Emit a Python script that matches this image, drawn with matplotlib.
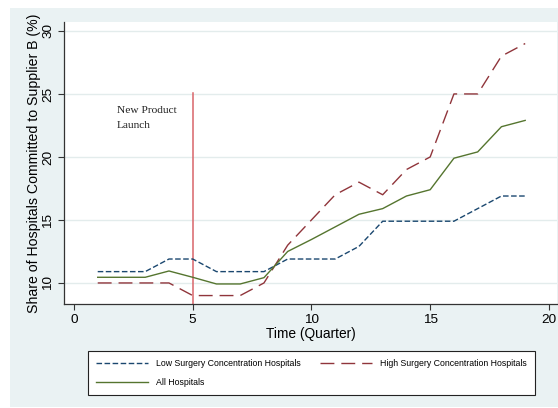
import matplotlib
matplotlib.use("Agg")
import matplotlib.pyplot as plt
from matplotlib.patches import Rectangle

quarters = list(range(1, 20))
low_conc = [10.9, 10.9, 10.9, 11.9, 11.9, 10.9, 10.9, 10.9, 11.9, 11.9,
            11.9, 12.9, 14.9, 14.9, 14.9, 14.9, 15.9, 16.9, 16.9]
high_conc = [10.0, 10.0, 10.0, 10.0, 9.0, 9.0, 9.0, 10.0, 13.0, 15.0,
             17.0, 18.0, 17.0, 19.0, 20.0, 25.0, 25.0, 28.0, 29.0]
all_hosp = [10.45, 10.45, 10.45, 10.95, 10.45, 9.92, 9.92, 10.42, 12.5, 13.45,
            14.45, 15.45, 15.9, 16.9, 17.4, 19.9, 20.4, 22.4, 22.9]
launch_q = 5
launch_top = 25.1
xticks = [0, 5, 10, 15, 20]
yticks = [10, 15, 20, 25, 30]

W, H = 558, 408
fig = plt.figure(figsize=(W / 100, H / 100), dpi=100)
fig.patch.set_facecolor("white")
bg = "#eaf2f3"
fig.patches.append(Rectangle((10 / W, 1 - 407 / H), 1 - 10 / W, (407 - 8) / H,
                             transform=fig.transFigure, facecolor=bg,
                             edgecolor="none", zorder=-10))

ax = fig.add_axes([64 / W, 1 - 304 / H, (557 - 64) / W, (304 - 22) / H])
ax.set_zorder(1)
ax.set_facecolor("white")
ax.set_xlim(-0.42, 20.34)
ax.set_ylim(8.33, 30.71)

for s in ["top", "right"]:
    ax.spines[s].set_visible(False)
for s in ["left", "bottom"]:
    ax.spines[s].set_color("#333333")
    ax.spines[s].set_linewidth(0.9)

ax.set_yticks(yticks)
ax.set_xticks(xticks)
font = "Liberation Sans"
ax.set_yticklabels([str(v) for v in yticks], rotation=90, va="center",
                   fontsize=9.7, family=font)
ax.set_xticklabels([str(v) for v in xticks], fontsize=9.7, family=font)
ax.tick_params(axis="both", length=4, width=0.8, color="#333333", pad=3)
ax.grid(axis="y", color="#e3ecec", linewidth=1.0)
ax.set_axisbelow(True)

ax.axvline(launch_q, ymin=0, ymax=(launch_top - 8.33) / (30.71 - 8.33),
           color="#d9656a", linewidth=1.1, zorder=2)

l1, = ax.plot(quarters, low_conc, color="#1a476f", linewidth=1.0,
              dashes=(4.0, 1.8), label="Low Surgery Concentration Hospitals", zorder=3)
l2, = ax.plot(quarters, high_conc, color="#90353b", linewidth=1.0,
              dashes=(10.0, 5.0), label="High Surgery Concentration Hospitals", zorder=3)
l3, = ax.plot(quarters, all_hosp, color="#55752f", linewidth=1.0,
              label="All Hospitals", zorder=3)

ax.text(1.81, 24.05, "New Product\nLaunch", family="Liberation Serif",
        fontsize=8.2, va="top", ha="left", linespacing=1.9, color="#222222")

ax.set_xlabel("Time (Quarter)", fontsize=9.9, family=font, labelpad=1)
ax.set_ylabel("Share of Hospitals Committed to Supplier B (%)", fontsize=10.2,
              family=font, labelpad=1)

leg = fig.legend(handles=[l1, l3, l2], ncol=2, loc="upper left",
                 bbox_to_anchor=(88 / W, 1 - 397 / H, (535 - 88) / W, (397 - 351) / H),
                 mode="expand", prop={"family": font, "size": 6.3},
                 handlelength=6.0, handletextpad=0.9, borderpad=0.9,
                 labelspacing=1.2, frameon=True, fancybox=False,
                 framealpha=1, borderaxespad=0)
leg.get_frame().set_edgecolor("#222222")
leg.get_frame().set_linewidth(0.8)
leg.set_zorder(2)

fig.savefig("out.png", dpi=100, facecolor="white")
